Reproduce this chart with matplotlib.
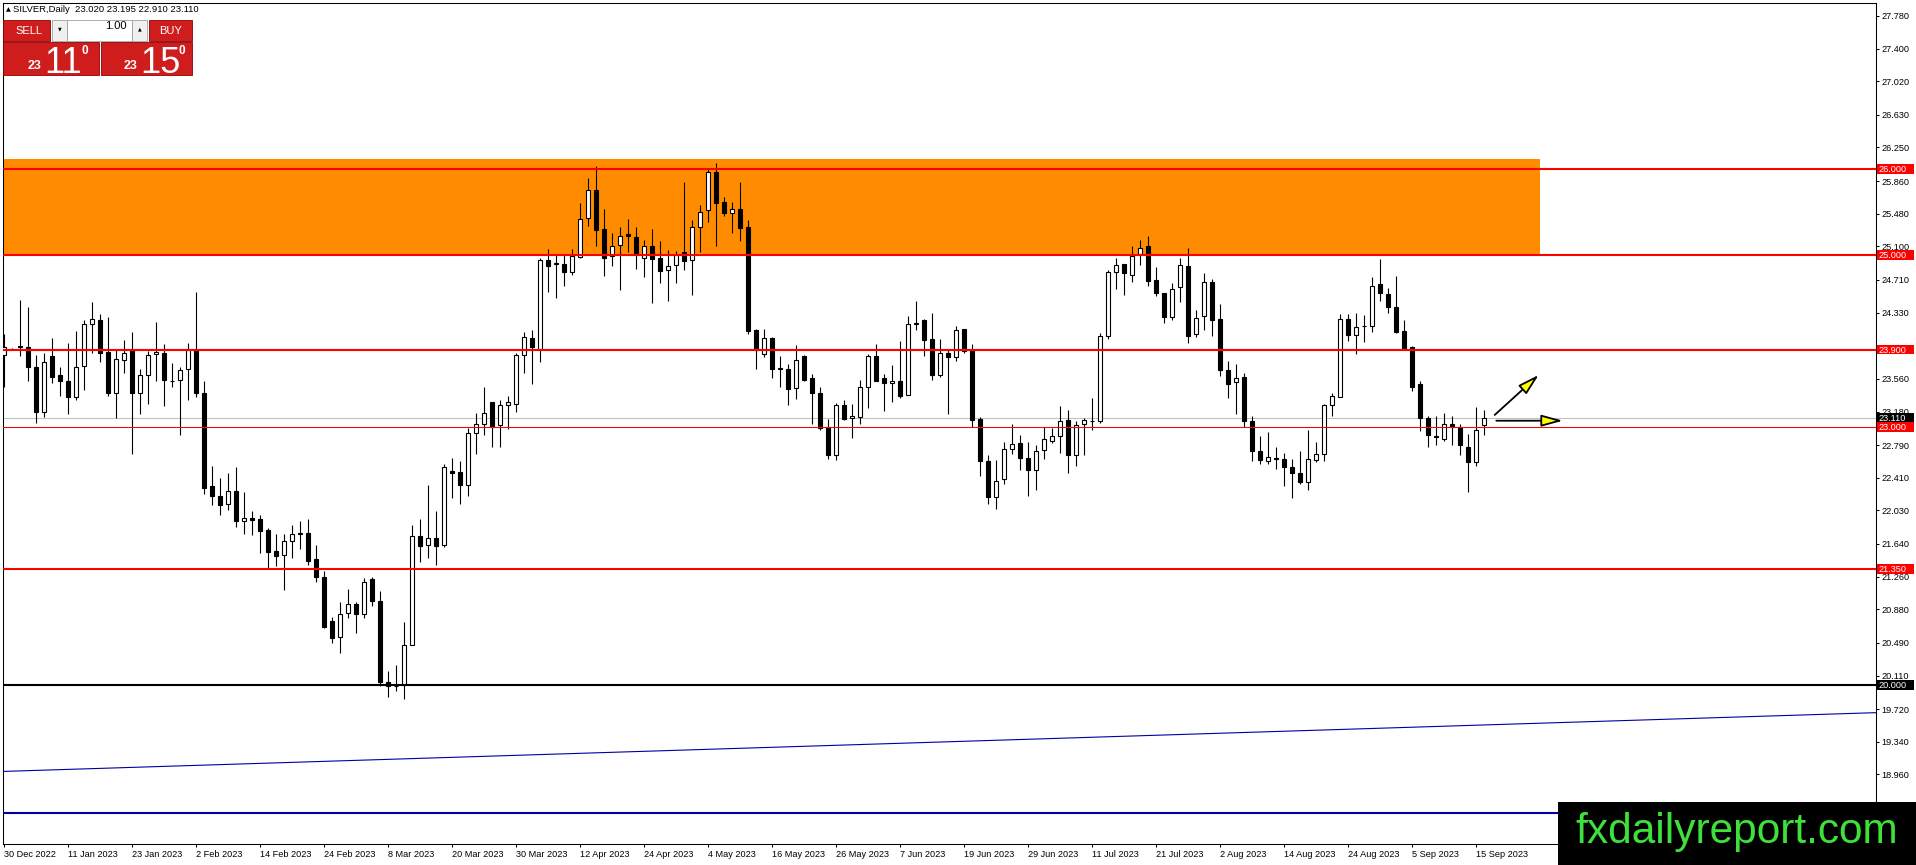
import matplotlib
matplotlib.use('Agg')
import matplotlib.pyplot as plt
from matplotlib.patches import Rectangle, FancyArrowPatch
import numpy as np

plt.rcParams['font.family'] = ['Liberation Sans', 'DejaVu Sans']

# Daily OHLC bars, 30 Dec 2022 onwards
opens = [23.84, 23.91, 23.93, 23.93, 23.70, 23.18, 23.82, 23.60, 23.54, 23.35,
         23.71, 24.20, 24.24, 23.87, 23.40, 23.78, 23.89, 23.39, 23.60, 23.85,
         23.86, 23.54, 23.55, 23.67, 23.89, 23.40, 22.31, 22.20, 22.10, 22.26,
         21.91, 21.94, 21.93, 21.80, 21.56, 21.51, 21.68, 21.76, 21.77, 21.46,
         21.25, 20.74, 20.56, 20.84, 20.94, 20.83, 21.23, 20.98, 20.03, 19.99,
         20.00, 20.47, 21.73, 21.63, 21.71, 21.63, 22.49, 22.48, 22.33, 22.93,
         23.03, 23.29, 23.02, 23.26, 23.27, 23.84, 24.04, 23.91, 24.94, 24.89,
         24.89, 24.80, 24.98, 25.43, 25.76, 25.30, 24.99, 25.12, 25.24, 25.21,
         24.96, 25.10, 24.96, 24.82, 24.88, 25.03, 24.94, 25.32, 25.52, 25.97,
         25.62, 25.49, 25.53, 25.32, 24.13, 23.85, 24.03, 23.68, 23.68, 23.45,
         23.82, 23.57, 23.39, 23.00, 22.68, 23.25, 23.11, 23.12, 23.46, 23.82,
         23.57, 23.51, 23.53, 23.37, 24.20, 24.24, 24.02, 23.61, 23.86, 23.81,
         24.14, 23.89, 23.09, 22.61, 22.19, 22.40, 22.74, 22.81, 22.64, 22.50,
         22.73, 22.84, 22.90, 23.08, 22.67, 23.04, 23.07, 23.07, 24.06, 24.80,
         24.90, 24.77, 25.01, 25.10, 24.71, 24.56, 24.28, 24.63, 24.87, 24.08,
         24.29, 24.69, 24.25, 23.66, 23.52, 23.58, 23.07, 22.72, 22.61, 22.63,
         22.63, 22.54, 22.46, 22.36, 22.62, 22.69, 23.26, 23.35, 24.26, 24.07,
         24.17, 24.18, 24.66, 24.55, 24.39, 24.12, 23.93, 23.50, 23.11, 22.90,
         22.86, 23.03, 23.00, 22.77, 22.59, 23.02]
highs = [24.08, 23.92, 24.48, 24.40, 23.84, 23.86, 24.03, 23.70, 23.98, 24.12,
         24.24, 24.45, 24.31, 24.28, 23.89, 24.01, 24.10, 23.68, 23.88, 24.22,
         23.97, 23.74, 23.70, 23.98, 24.57, 23.54, 22.55, 22.41, 22.47, 22.53,
         22.24, 22.02, 21.98, 21.83, 21.75, 21.75, 21.86, 21.91, 21.93, 21.63,
         21.33, 20.79, 20.96, 21.12, 20.97, 21.24, 21.25, 21.09, 20.16, 20.23,
         20.73, 21.86, 21.93, 22.33, 22.02, 22.57, 22.64, 22.60, 22.99, 23.16,
         23.46, 23.29, 23.31, 23.36, 23.86, 24.10, 24.13, 24.96, 25.07, 25.00,
         25.00, 25.07, 25.61, 25.90, 26.03, 25.54, 25.25, 25.32, 25.42, 25.32,
         25.18, 25.30, 25.16, 25.06, 25.05, 25.85, 25.41, 25.58, 26.00, 26.07,
         25.68, 25.62, 25.85, 25.41, 24.14, 24.14, 24.05, 23.82, 23.73, 23.95,
         23.84, 23.62, 23.46, 23.09, 23.28, 23.31, 23.27, 23.55, 23.85, 23.97,
         23.62, 23.72, 24.00, 24.29, 24.46, 24.25, 24.33, 24.02, 23.89, 24.17,
         24.14, 23.97, 23.12, 22.68, 22.62, 22.82, 23.03, 22.91, 22.82, 22.79,
         23.00, 22.99, 23.24, 23.20, 23.07, 23.11, 23.34, 24.09, 24.82, 24.96,
         24.90, 25.10, 25.18, 25.22, 24.86, 24.56, 24.67, 24.96, 25.08, 24.36,
         24.79, 24.72, 24.43, 23.77, 23.73, 23.63, 23.13, 22.89, 22.94, 22.77,
         22.70, 22.63, 22.72, 22.96, 22.82, 23.27, 23.40, 24.31, 24.31, 24.32,
         24.30, 24.74, 24.95, 24.62, 24.75, 24.24, 23.94, 23.54, 23.13, 23.13,
         23.16, 23.13, 23.04, 22.92, 23.23, 23.195]
lows = [23.46, 23.90, 23.82, 23.53, 23.05, 23.12, 23.51, 23.36, 23.15, 23.31,
        23.43, 23.86, 23.75, 23.36, 23.11, 23.63, 22.69, 23.15, 23.27, 23.54,
        23.24, 23.47, 22.91, 23.31, 23.35, 22.22, 22.09, 21.98, 22.03, 21.84,
        21.76, 21.74, 21.53, 21.35, 21.38, 21.11, 21.48, 21.58, 21.39, 21.20,
        20.66, 20.49, 20.37, 20.78, 20.61, 20.78, 20.92, 19.99, 19.86, 19.93,
        19.84, 20.47, 21.43, 21.48, 21.40, 21.61, 22.17, 22.10, 22.20, 22.69,
        22.91, 22.77, 22.77, 22.98, 23.17, 23.63, 23.50, 23.75, 24.57, 24.50,
        24.64, 24.77, 24.96, 25.34, 25.10, 24.75, 24.87, 24.59, 25.04, 24.84,
        24.74, 24.44, 24.67, 24.46, 24.67, 24.83, 24.53, 25.03, 25.38, 25.11,
        25.45, 25.26, 25.16, 24.08, 23.67, 23.81, 23.57, 23.47, 23.26, 23.32,
        23.54, 23.04, 22.96, 22.63, 22.62, 23.08, 22.87, 23.04, 23.22, 23.53,
        23.19, 23.29, 23.34, 23.37, 24.13, 23.82, 23.55, 23.58, 23.15, 23.77,
        23.86, 23.00, 22.43, 22.11, 22.05, 22.34, 22.69, 22.50, 22.20, 22.27,
        22.63, 22.81, 22.70, 22.46, 22.55, 22.68, 22.96, 23.05, 24.02, 24.61,
        24.53, 24.69, 24.88, 24.64, 24.52, 24.21, 24.24, 24.45, 23.98, 24.05,
        24.13, 24.06, 23.59, 23.34, 23.15, 23.00, 22.61, 22.57, 22.57, 22.51,
        22.31, 22.17, 22.34, 22.27, 22.59, 22.61, 23.13, 23.35, 24.00, 23.85,
        23.99, 24.10, 24.46, 24.32, 24.09, 23.90, 23.42, 22.95, 22.77, 22.79,
        22.84, 22.79, 22.68, 22.24, 22.55, 22.91]
closes = [23.93, 23.91, 23.94, 23.70, 23.18, 23.75, 23.58, 23.53, 23.35, 23.70,
          24.20, 24.25, 23.86, 23.39, 23.79, 23.86, 23.39, 23.61, 23.84, 23.87,
          23.55, 23.53, 23.66, 23.89, 23.40, 22.29, 22.20, 22.09, 22.26, 21.91,
          21.94, 21.92, 21.79, 21.55, 21.50, 21.67, 21.75, 21.77, 21.44, 21.25,
          20.68, 20.55, 20.83, 20.94, 20.82, 21.20, 20.98, 20.03, 19.99, 19.99,
          20.46, 21.73, 21.62, 21.71, 21.62, 22.54, 22.47, 22.33, 22.93, 23.04,
          23.16, 23.00, 23.26, 23.29, 23.84, 24.05, 23.93, 24.94, 24.87, 24.91,
          24.80, 24.99, 25.42, 25.76, 25.29, 24.97, 25.11, 25.22, 25.22, 25.02,
          25.10, 24.95, 24.81, 24.87, 25.00, 24.93, 25.32, 25.50, 25.97, 25.60,
          25.49, 25.54, 25.31, 24.12, 23.90, 24.03, 23.68, 23.69, 23.44, 23.78,
          23.55, 23.39, 22.99, 22.67, 23.25, 23.09, 23.13, 23.46, 23.82, 23.54,
          23.51, 23.54, 23.36, 24.20, 24.21, 24.01, 23.61, 23.86, 23.81, 24.13,
          23.88, 23.08, 22.60, 22.19, 22.37, 22.74, 22.80, 22.64, 22.50, 22.72,
          22.86, 22.90, 23.07, 22.67, 23.02, 23.08, 23.07, 24.06, 24.80, 24.88,
          24.79, 24.99, 25.08, 24.70, 24.56, 24.28, 24.61, 24.88, 24.06, 24.27,
          24.69, 24.24, 23.66, 23.50, 23.57, 23.07, 22.72, 22.62, 22.65, 22.64,
          22.54, 22.46, 22.36, 22.63, 22.69, 23.25, 23.36, 24.26, 24.07, 24.16,
          24.17, 24.64, 24.56, 24.39, 24.11, 23.91, 23.47, 23.11, 22.91, 22.88,
          23.03, 23.00, 22.79, 22.59, 22.97, 23.11]

date_labels = ['30 Dec 2022', '11 Jan 2023', '23 Jan 2023', '2 Feb 2023', '14 Feb 2023',
               '24 Feb 2023', '8 Mar 2023', '20 Mar 2023', '30 Mar 2023', '12 Apr 2023',
               '24 Apr 2023', '4 May 2023', '16 May 2023', '26 May 2023', '7 Jun 2023',
               '19 Jun 2023', '29 Jun 2023', '11 Jul 2023', '21 Jul 2023', '2 Aug 2023',
               '14 Aug 2023', '24 Aug 2023', '5 Sep 2023', '15 Sep 2023']
price_ticks = [27.78, 27.40, 27.02, 26.63, 26.25, 25.86, 25.48, 25.10, 24.71, 24.33,
               23.95, 23.56, 23.18, 22.79, 22.41, 22.03, 21.64, 21.26, 20.88, 20.49,
               20.11, 19.72, 19.34, 18.96, 18.57]
hidden_ticks = [23.95]   # fully covered by the 23.900 line label in the chart

# drawn objects
zone_prices = [25.0, 26.12]
zone_end_bar = 192
red_levels = [26.0, 25.0, 23.9, 21.35]
thin_red_level = 23.0
black_level = 20.0
bid_price = 23.11
blue_level = 18.51
trend_bars = [0, 234]
trend_prices = [18.995, 19.678]
arrow_up_bars, arrow_up_prices = [186.4, 191.9], [23.14, 23.605]
arrow_flat_bars, arrow_flat_prices = [186.6, 194.9], [23.073, 23.073]
header = 'SILVER,Daily  23.020 23.195 22.910 23.110'

W, H = 1916, 865
fig = plt.figure(figsize=(W / 100, H / 100), dpi=100)
fig.patch.set_facecolor('white')

# plot area in pixels: left 3, top 3, right 1876, bottom 844 ; 8 px per bar, 86 px per 1.0
ax = fig.add_axes([3 / W, 1 - 844 / H, 1873 / W, 841 / H])
ax.set_xlim(-0.0625, 234.06)
ax.set_ylim(18.151, 27.930)

o = np.array(opens)
h = np.array(highs)
l = np.array(lows)
c = np.array(closes)
x = np.arange(len(o))
up = c >= o

ax.add_patch(Rectangle((-5, zone_prices[0]), zone_end_bar + 5, zone_prices[1] - zone_prices[0],
                       fc='#ff8c00', ec='none', zorder=1))
ax.axhline(bid_price, color='#c0c0c0', lw=0.75, zorder=2)

ax.vlines(x, l, h, color='black', lw=0.8, zorder=3)
ax.bar(x[up], (c - o)[up], bottom=o[up], width=0.5, color='white', edgecolor='black',
       linewidth=0.8, zorder=4)
ax.bar(x[~up], (o - c)[~up], bottom=c[~up], width=0.5, color='black', edgecolor='black',
       linewidth=0.8, zorder=4)

for lv in red_levels:
    ax.axhline(lv, color='#ff0000', lw=1.5, zorder=5)
ax.axhline(thin_red_level, color='#ff0000', lw=0.75, zorder=5)
ax.axhline(black_level, color='black', lw=1.5, zorder=5)
ax.axhline(blue_level, color='#0000a0', lw=1.5, zorder=5)
ax.plot(trend_bars, trend_prices, color='#0000a0', lw=0.8, zorder=5)

for xs, ys in [(arrow_up_bars, arrow_up_prices), (arrow_flat_bars, arrow_flat_prices)]:
    ax.add_patch(FancyArrowPatch((xs[0], ys[0]), (xs[1], ys[1]),
                                 arrowstyle='-|>,head_length=13,head_width=3.6',
                                 mutation_scale=1, shrinkA=0, shrinkB=0,
                                 fc='#ffff00', ec='black', lw=1.3, zorder=6))

# axes
ax.yaxis.tick_right()
ax.set_yticks(price_ticks)
ax.set_yticklabels(['' if p in hidden_ticks else f'{p:.3f}' for p in price_ticks])
ax.set_xticks(np.arange(len(date_labels)) * 8)
ax.set_xticklabels(date_labels)
for t in ax.get_xticklabels():
    t.set_ha('left')
ax.tick_params(axis='both', direction='out', length=2.5, width=0.75, labelsize=6.6,
               pad=1.5, colors='black')
for s in ax.spines.values():
    s.set_linewidth(0.75)
    s.set_color('black')

# price labels of the lines on the right scale
ytr = ax.get_yaxis_transform()
for lv, col in [(26.0, '#ff0000'), (25.0, '#ff0000'), (23.9, '#ff0000'), (bid_price, 'black'),
                (23.0, '#ff0000'), (21.35, '#ff0000'), (20.0, 'black')]:
    ax.add_patch(Rectangle((1.0004, lv - 0.056), 0.0197, 0.112, transform=ytr,
                           fc=col, ec='none', clip_on=False, zorder=10))
    ax.text(1.0015, lv, f'{lv:.3f}', transform=ytr, ha='left', va='center_baseline',
            fontsize=6.6, color='white', clip_on=False, zorder=11)

# overlay in pixel coordinates for the trade panel and the logo
ov = fig.add_axes([0, 0, 1, 1])
ov.set_xlim(0, W)
ov.set_ylim(H, 0)
ov.axis('off')
ov.patch.set_alpha(0)

ov.text(6, 9.5, '\u25b2', fontsize=4.5, va='center', ha='left', family='DejaVu Sans')
ov.text(13, 9.5, header, fontsize=6.8, va='center', ha='left')

red = '#cf1c1c'
edge = '#8e0000'
ov.add_patch(Rectangle((3.5, 20), 46.5, 21, fc=red, ec=edge, lw=0.6))
ov.text(15, 31, 'SELL', color='white', fontsize=8, va='center', ha='left')
ov.add_patch(Rectangle((52, 20), 15, 21, fc='#f0f0f0', ec='#a0a0a0', lw=0.6))
ov.text(59.5, 29, '\u25bc', fontsize=3.5, va='center', ha='center', family='DejaVu Sans')
ov.add_patch(Rectangle((67, 20), 65, 21, fc='white', ec='#a0a0a0', lw=0.6))
ov.text(127, 26, '1.00', fontsize=8, va='center', ha='right')
ov.add_patch(Rectangle((132, 20), 15, 21, fc='#f0f0f0', ec='#a0a0a0', lw=0.6))
ov.text(139.5, 29, '\u25b2', fontsize=3.5, va='center', ha='center', family='DejaVu Sans')
ov.add_patch(Rectangle((149, 20), 43, 21, fc=red, ec=edge, lw=0.6))
ov.text(170.5, 31, 'BUY', color='white', fontsize=8, va='center', ha='center')

ov.add_patch(Rectangle((3.5, 41.5), 96, 33.5, fc=red, ec=edge, lw=0.6))
ov.add_patch(Rectangle((101, 41.5), 91, 33.5, fc=red, ec=edge, lw=0.6))
for big, xs in [('11', (42, 44, 82)), ('15', (138, 140, 179))]:
    ov.text(xs[0], 69, '23', color='white', fontsize=9, fontweight='bold', ha='right', va='baseline')
    ov.text(xs[1], 73, big, color='white', fontsize=26, ha='left', va='baseline')
    ov.text(xs[2], 45.5, '0', color='white', fontsize=8.5, fontweight='bold', ha='left', va='top')

ov.add_patch(Rectangle((1558, 802), 358, 63, fc='black', ec='none'))
ov.text(1575, 843, 'fxdailyreport.com', color='#3ee03a', fontsize=30.5, ha='left', va='baseline')

fig.savefig('out.png', dpi=100)
